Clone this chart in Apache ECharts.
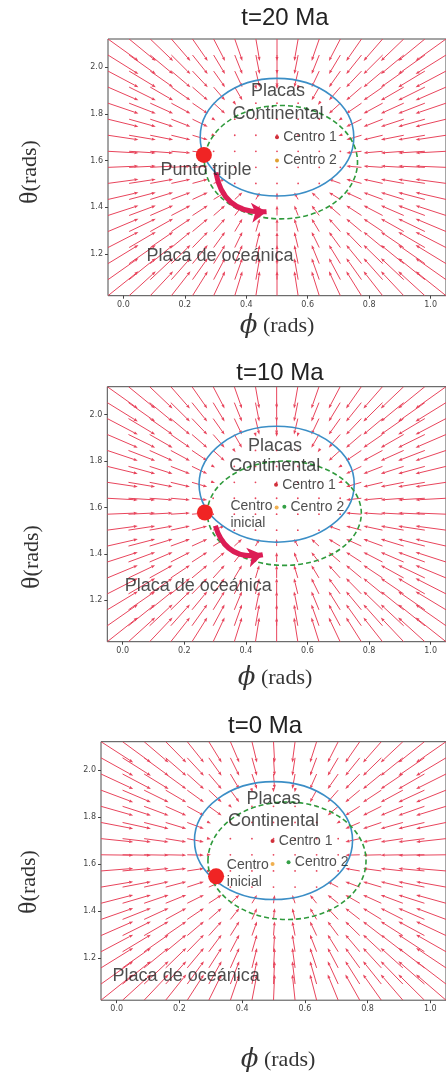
<!DOCTYPE html>
<html lang="es">
<head>
<meta charset="UTF-8">
<title>Punto triple</title>
<script src="https://cdn.jsdelivr.net/npm/echarts@6/dist/echarts.min.js"></script>
<style>
    html, body { margin: 0; padding: 0; background: #fff; }
    #main { width: 446px; height: 1078px; }
</style>
</head>
<body>
<div id="main"></div>
<script type="text/javascript">
    // quiver grid (rads)
    const phiGrid = [-0.05, 0.01875, 0.0875, 0.15625, 0.225, 0.29375, 0.3625, 0.43125, 0.5,
        0.56875, 0.6375, 0.70625, 0.775, 0.84375, 0.9125, 0.98125, 1.05];
    const thetaGrid = [1.0208, 1.0896, 1.1583, 1.2271, 1.2958, 1.3646, 1.4333, 1.5021, 1.5708,
        1.6396, 1.7083, 1.7771, 1.8458, 1.9146, 1.9833, 2.0521, 2.1208];

    const xTicks = [0.0, 0.2, 0.4, 0.6, 0.8, 1.0];
    const yTicks = [1.2, 1.4, 1.6, 1.8, 2.0];

    const titles = ['t=20 Ma', 't=10 Ma', 't=0 Ma'];

    // punto hacia donde convergen las flechas, y ganancia fuera/dentro del continente
    const sinkCenter = [[0.5, 1.60], [0.5, 1.60], [0.52, 1.63]];
    const gainOutside = [0.18, 0.18, 0.18];
    const gainInside = [0.03, 0.03, 0.03];

    // [phi, theta, rx, ry]
    const blueEllipse = [[0.50, 1.70, 0.25, 0.252], [0.50, 1.70, 0.252, 0.25], [0.50, 1.70, 0.252, 0.251]];
    const greenEllipse = [[0.513, 1.593, 0.249, 0.243], [0.525, 1.575, 0.25, 0.225], [0.543, 1.614, 0.252, 0.25]];

    const centro1 = [[0.50, 1.70], [0.498, 1.698], [0.497, 1.698]];
    const centro2 = [[0.50, 1.60], [0.525, 1.603], [0.548, 1.608]];
    const centroInicial = [null, [0.50, 1.60], [0.497, 1.60]];
    const puntoTriple = [[0.262, 1.624], [0.267, 1.578], [0.317, 1.548]];
    const moveArrow = [[[0.301, 1.549], [0.466, 1.381]], [[0.301, 1.521], [0.455, 1.396]], null];

    // text label anchors [phi, theta]
    const placasLabel = [[0.503, 1.896], [0.495, 1.867], [0.50, 1.876]];
    const continentalLabel = [[0.503, 1.801], [0.494, 1.777], [0.50, 1.783]];
    const oceanLabel = [[0.075, 1.189], [0.0067, 1.259], [-0.013, 1.122]];
    const trippleLabel = [[0.269, 1.561], null, null];
    const inicialLabel = [null, [0.35, 1.568], [0.351, 1.560]];

    // pixel layout of the three panels
    const panels = [
        {left: 108, top: 39, width: 346.5, height: 256.7, title: [285, 18], xName: [277, 326], yName: [30, 172]},
        {left: 107.3, top: 386.7, width: 343.2, height: 255, title: [280, 373], xName: [275, 678], yName: [32, 557]},
        {left: 101, top: 741.7, width: 346.5, height: 258.5, title: [265, 726], xName: [278, 1060], yName: [29, 882]}
    ];

    const RED = '#e8455c';
    const TXT = '#222';

    function quiverData(i) {
        let data = [];
        const c = sinkCenter[i];
        const b = blueEllipse[i];
        for (let t of thetaGrid) {
            for (let p of phiGrid) {
                let dx = (p - b[0]) / b[2], dy = (t - b[1]) / b[3];
                let inside = dx * dx + dy * dy < 1;
                let g = inside ? gainInside[i] : gainOutside[i];
                data.push([p, t, (c[0] - p) * g, (c[1] - t) * g]);
            }
        }
        return data;
    }

    function renderArrow(params, api) {
        let p0 = api.coord([api.value(0), api.value(1)]);
        let p1 = api.coord([api.value(0) + api.value(2), api.value(1) + api.value(3)]);
        let dx = p1[0] - p0[0], dy = p1[1] - p0[1];
        let len = Math.sqrt(dx * dx + dy * dy);
        if (len < 2) {
            return {type: 'circle', shape: {cx: p0[0], cy: p0[1], r: 0.9}, style: {fill: RED}};
        }
        let ux = dx / len, uy = dy / len;
        let hl = 4, hw = 1.5;
        let bx = p1[0] - ux * hl, by = p1[1] - uy * hl;
        return {
            type: 'group',
            children: [
                {type: 'line', shape: {x1: p0[0], y1: p0[1], x2: bx, y2: by}, style: {stroke: RED, lineWidth: 1}},
                {
                    type: 'polygon',
                    shape: {points: [[p1[0], p1[1]], [bx - uy * hw, by + ux * hw], [bx + uy * hw, by - ux * hw]]},
                    style: {fill: RED}
                }
            ]
        };
    }

    function renderEllipse(dash, color) {
        return function (params, api) {
            let c = api.coord([api.value(0), api.value(1)]);
            let s = api.size([api.value(2), api.value(3)]);
            return {
                type: 'ellipse',
                shape: {cx: c[0], cy: c[1], rx: s[0], ry: s[1]},
                style: {fill: 'none', stroke: color, lineWidth: 1.6, lineDash: dash ? [5, 3] : null}
            };
        };
    }

    function textSeries(i, pts, size, align) {
        let data = [];
        pts.forEach(function (item) {
            if (item[0]) data.push({value: item[0], name: item[1]});
        });
        return {
            type: 'scatter', xAxisIndex: i, yAxisIndex: i, symbolSize: 0, silent: true, z: 20,
            data: data,
            label: {
                show: true, position: [0, 0], formatter: '{b}', align: align, verticalAlign: 'middle',
                fontFamily: 'Liberation Sans, Arial', fontSize: size, color: TXT, lineHeight: size * 1.2
            }
        };
    }

    let grids = [], xAxes = [], yAxes = [], series = [], graphics = [];

    panels.forEach(function (pn, i) {
        grids.push({left: pn.left, top: pn.top, width: pn.width, height: pn.height,
            show: true, borderColor: '#4a4a4a', borderWidth: 1, backgroundColor: '#fff'});
        xAxes.push({
            gridIndex: i, type: 'value', min: -0.05, max: 1.05,
            axisLine: {show: false, onZero: false}, splitLine: {show: false},
            axisTick: {show: true, length: 3, lineStyle: {color: '#444'}, customValues: xTicks},
            axisLabel: {fontSize: 8, color: '#444', margin: 5, fontFamily: 'DejaVu Sans', customValues: xTicks,
                formatter: function (v) { return v.toFixed(1); }}
        });
        yAxes.push({
            gridIndex: i, type: 'value', min: 1.0208, max: 2.1208,
            axisLine: {show: false, onZero: false}, splitLine: {show: false},
            axisTick: {show: true, length: 3, lineStyle: {color: '#444'}, customValues: yTicks},
            axisLabel: {fontSize: 8, color: '#444', margin: 5, fontFamily: 'DejaVu Sans', customValues: yTicks,
                formatter: function (v) { return v.toFixed(1); }}
        });

        series.push({
            type: 'custom', xAxisIndex: i, yAxisIndex: i, clip: true, silent: true, z: 2,
            renderItem: renderArrow, data: quiverData(i)
        });
        series.push({
            type: 'custom', xAxisIndex: i, yAxisIndex: i, silent: true, z: 5,
            renderItem: renderEllipse(false, '#3b8ec6'), data: [blueEllipse[i]]
        });
        series.push({
            type: 'custom', xAxisIndex: i, yAxisIndex: i, silent: true, z: 5,
            renderItem: renderEllipse(true, '#2f9a3c'), data: [greenEllipse[i]]
        });

        if (moveArrow[i]) {
            series.push({
                type: 'lines', coordinateSystem: 'cartesian2d', xAxisIndex: i, yAxisIndex: i, silent: true, z: 8,
                symbol: ['none', 'arrow'], symbolSize: 15,
                lineStyle: {color: '#dc1d55', width: 5, curveness: -0.45, opacity: 1},
                data: [{coords: moveArrow[i]}]
            });
        }

        let dots = [
            {value: centro1[i], itemStyle: {color: '#d0303a'}, symbolSize: 4},
            {value: centro2[i], itemStyle: {color: i === 0 ? '#e0a030' : '#34a046'}, symbolSize: 4}
        ];
        if (centroInicial[i]) dots.push({value: centroInicial[i], itemStyle: {color: '#f0b050'}, symbolSize: 4});
        dots.push({value: puntoTriple[i], itemStyle: {color: '#f02424'}, symbolSize: 16});
        series.push({type: 'scatter', xAxisIndex: i, yAxisIndex: i, silent: true, z: 10,
            itemStyle: {opacity: 1}, data: dots});

        series.push(textSeries(i, [[placasLabel[i], 'Placas'], [continentalLabel[i], 'Continental'],
            [trippleLabel[i], 'Punto triple']], 18, 'center'));
        series.push(textSeries(i, [[oceanLabel[i], 'Placa de oceánica']], 18, 'left'));
        series.push(textSeries(i, [[[centro1[i][0] + 0.02, centro1[i][1]], 'Centro 1'],
            [[centro2[i][0] + 0.02, centro2[i][1]], 'Centro 2'],
            [inicialLabel[i], 'Centro\ninicial']], 14, 'left'));

        graphics.push({
            type: 'text', x: pn.title[0], y: pn.title[1], z: 100,
            style: {text: titles[i], fontFamily: 'Liberation Sans, Arial', fontSize: 24, fill: '#222',
                align: 'center', verticalAlign: 'middle'}
        });
        graphics.push({
            type: 'text', x: pn.xName[0], y: pn.xName[1], z: 100,
            style: {
                text: '{p|ϕ}{r| (rads)}', align: 'center', verticalAlign: 'middle',
                rich: {
                    p: {fontFamily: 'DejaVu Serif', fontStyle: 'italic', fontSize: 26, fill: '#333'},
                    r: {fontFamily: 'Liberation Serif', fontSize: 22, fill: '#333'}
                }
            }
        });
        graphics.push({
            type: 'text', x: pn.yName[0], y: pn.yName[1], rotation: Math.PI / 2, z: 100,
            style: {
                text: '{t|θ}{r|(rads)}', align: 'center', verticalAlign: 'middle',
                rich: {
                    t: {fontFamily: 'Liberation Serif', fontSize: 26, fill: '#333'},
                    r: {fontFamily: 'Liberation Serif', fontSize: 22, fill: '#333'}
                }
            }
        });
    });

    let chart = echarts.init(document.getElementById('main'), null, {renderer: 'canvas'});
    chart.setOption({
        animation: false,
        backgroundColor: '#fff',
        grid: grids,
        xAxis: xAxes,
        yAxis: yAxes,
        series: series,
        graphic: graphics
    });
</script>
</body>
</html>
